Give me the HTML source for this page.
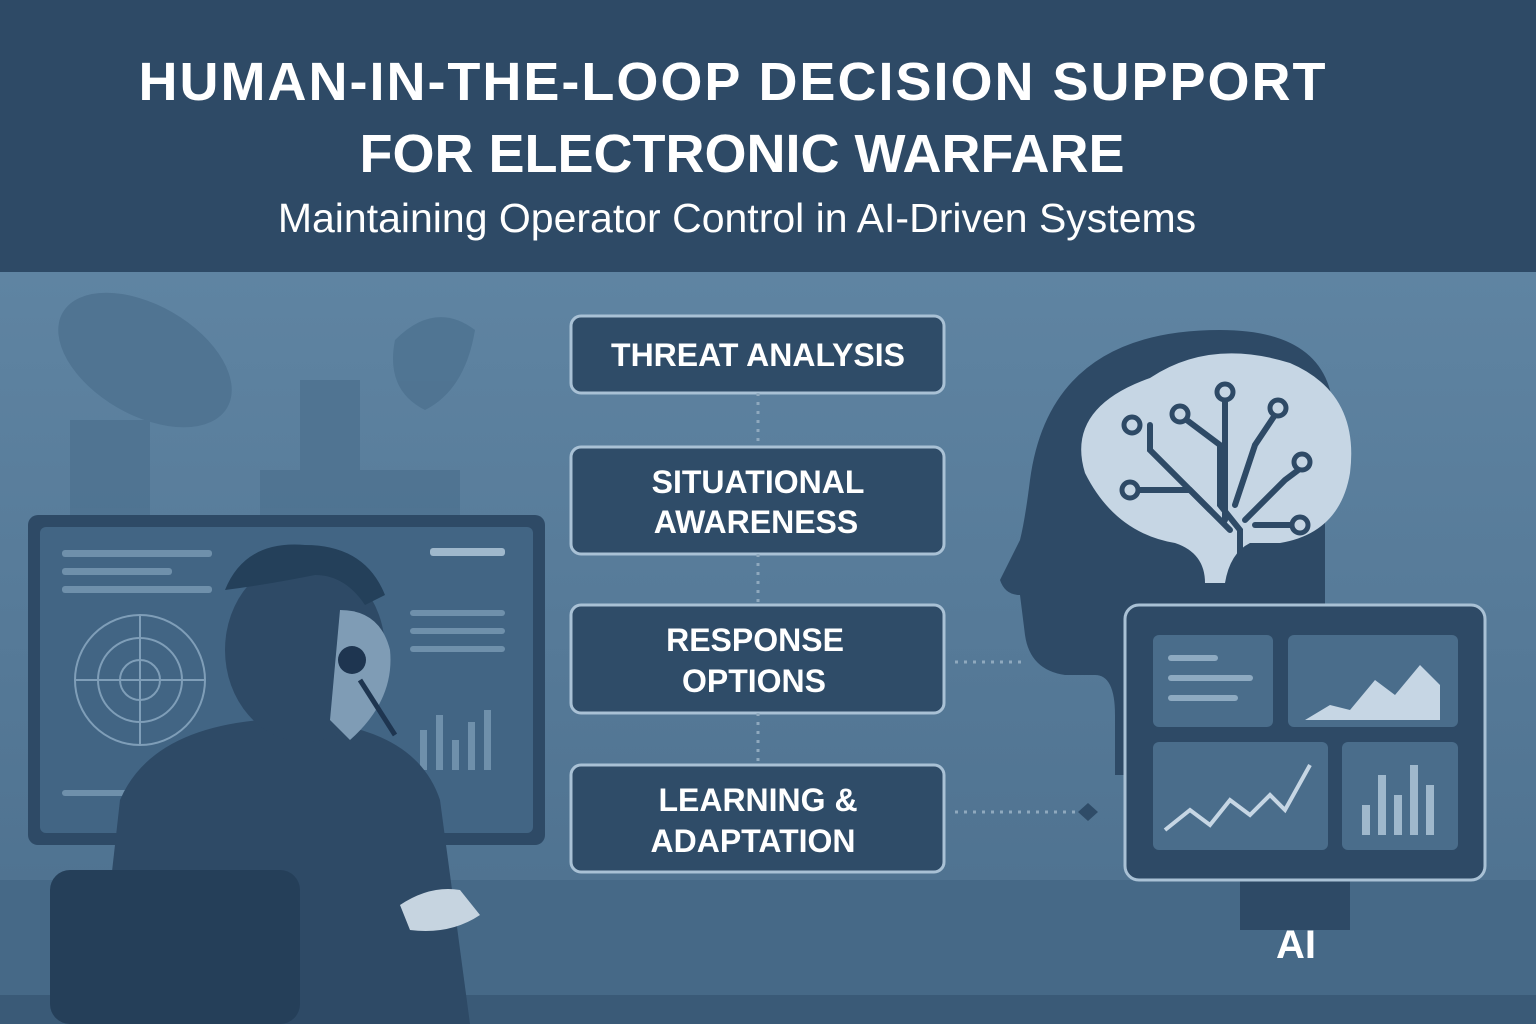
<!DOCTYPE html>
<html><head><meta charset="utf-8"><style>
html,body{margin:0;padding:0;width:1536px;height:1024px;overflow:hidden;background:#5a7d9a}
svg{display:block}
text{font-family:"Liberation Sans","DejaVu Sans",sans-serif}
</style></head><body>
<svg width="1536" height="1024" viewBox="0 0 1536 1024" xmlns="http://www.w3.org/2000/svg">
<defs>
<linearGradient id="bg" x1="0" y1="0" x2="0" y2="1">
<stop offset="0" stop-color="#5f84a2"/><stop offset="1" stop-color="#4c6f8d"/>
</linearGradient>
</defs>
<rect x="0" y="272" width="1536" height="752" fill="url(#bg)"/>
<rect x="0" y="0" width="1536" height="272" fill="#2e4a66"/>
<text x="733" y="100" text-anchor="middle" fill="#fff" font-size="54" font-weight="bold" letter-spacing="2">HUMAN-IN-THE-LOOP DECISION SUPPORT</text>
<text x="742" y="172" text-anchor="middle" fill="#fff" font-size="54" font-weight="bold">FOR ELECTRONIC WARFARE</text>
<text x="737" y="232" text-anchor="middle" fill="#fff" font-size="41">Maintaining Operator Control in AI-Driven Systems</text>

<g fill="#4f7391" opacity="0.9">
<ellipse cx="145" cy="360" rx="95" ry="55" transform="rotate(30 145 360)"/>
<rect x="70" y="420" width="80" height="100"/>
<rect x="260" y="470" width="200" height="50"/>
<rect x="300" y="380" width="60" height="100"/>
<path d="M395 340 q40 -40 80 -10 q-10 60 -50 80 q-40 -20 -30 -70z"/>
</g>
<rect x="0" y="880" width="1536" height="144" fill="#466987"/>
<rect x="0" y="995" width="1536" height="29" fill="#3a5a77"/>

<rect x="28" y="515" width="517" height="330" rx="10" fill="#2e4a66"/>
<rect x="40" y="527" width="493" height="306" rx="6" fill="#426584"/>
<g stroke="#7f9eb8" stroke-width="2" fill="none">
<circle cx="140" cy="680" r="65"/><circle cx="140" cy="680" r="42"/><circle cx="140" cy="680" r="20"/>
<line x1="75" y1="680" x2="205" y2="680"/><line x1="140" y1="615" x2="140" y2="745"/>
</g>
<g fill="#6f90ab">
<rect x="62" y="550" width="150" height="7" rx="3"/><rect x="62" y="568" width="110" height="7" rx="3"/>
<rect x="62" y="586" width="150" height="7" rx="3"/>
<rect x="430" y="548" width="75" height="8" rx="3" fill="#9fb8cc"/>
<rect x="410" y="610" width="95" height="6" rx="3"/><rect x="410" y="628" width="95" height="6" rx="3"/><rect x="410" y="646" width="95" height="6" rx="3"/>
<rect x="420" y="730" width="7" height="40"/><rect x="436" y="715" width="7" height="55"/><rect x="452" y="740" width="7" height="30"/><rect x="468" y="722" width="7" height="48"/><rect x="484" y="710" width="7" height="60"/>
<rect x="62" y="790" width="120" height="6" rx="3"/>
</g>
<g fill="#2e4a66">
<path d="M95 1024 L120 800 Q150 730 260 720 L340 725 Q420 740 440 800 L470 1024 Z"/>
<ellipse cx="305" cy="650" rx="80" ry="92"/>
<rect x="50" y="870" width="250" height="154" rx="20" fill="#253f59"/>
</g>
<path d="M225 590 q20 -50 80 -45 q60 0 80 50 l-20 10 q-20 -30 -50 -30 q-50 10 -90 15z" fill="#24405a"/>
<path d="M340 610 q40 0 50 40 q5 50 -40 90 l-20 -20z" fill="#7f9cb5"/>
<path d="M400 905 q30 -20 60 -15 l20 25 q-30 20 -70 15z" fill="#c6d4e0"/>
<circle cx="352" cy="660" r="14" fill="#1e3550"/>
<line x1="360" y1="680" x2="395" y2="735" stroke="#1e3550" stroke-width="5"/>

<g stroke="#a9c1d5" stroke-width="3" fill="#2f4c68">
<rect x="571" y="316" width="373" height="77" rx="10"/>
<rect x="571" y="447" width="373" height="107" rx="10"/>
<rect x="571" y="605" width="373" height="108" rx="10"/>
<rect x="571" y="765" width="373" height="107" rx="10"/>
</g>
<g stroke="#8fa9be" stroke-width="3" stroke-dasharray="3 6">
<line x1="758" y1="393" x2="758" y2="447"/><line x1="758" y1="554" x2="758" y2="605"/><line x1="758" y1="713" x2="758" y2="765"/>
<line x1="955" y1="662" x2="1025" y2="662"/><line x1="955" y1="812" x2="1075" y2="812"/>
</g>
<path d="M1078 812 l10 -9 10 9 -10 9z" fill="#2f4c68"/>
<g fill="#fff" font-size="32" font-weight="bold" text-anchor="middle">
<text x="758" y="366">THREAT ANALYSIS</text>
<text x="758" y="493">SITUATIONAL</text><text x="756" y="533">AWARENESS</text>
<text x="755" y="651">RESPONSE</text><text x="754" y="692">OPTIONS</text>
<text x="758" y="811">LEARNING &amp;</text><text x="753" y="852">ADAPTATION</text>
</g>

<path d="M1220 330 q-170 0 -190 150 q-5 40 -10 60 l-20 40 q5 15 20 15 l5 40 q5 35 40 40 l30 0 q20 0 20 40 l0 60 l210 0 l0 -300 q40 -145 -105 -145z" fill="#2e4a66"/>
<path d="M1150 378 q60 -40 140 -15 q70 30 60 110 q-10 60 -70 70 l-30 0 q-20 10 -25 40 l-20 0 q0 -30 -30 -40 q-60 -10 -90 -70 q-20 -65 65 -95z" fill="#c6d6e4"/>
<g stroke="#2e4a66" stroke-width="6" fill="none" stroke-linecap="round">
<path d="M1240 590 l0 -60 l-20 -25 l0 -60 l-40 -30"/>
<path d="M1230 530 l-40 -40 l-60 0"/>
<path d="M1210 510 l-60 -60 l0 -25"/>
<path d="M1225 520 l0 -80 l0 -45"/>
<path d="M1235 505 l20 -60 l20 -30"/>
<path d="M1245 520 l40 -40 l20 -15"/>
<path d="M1255 525 l40 0"/>
</g>
<g fill="#c6d6e4" stroke="#2e4a66" stroke-width="5">
<circle cx="1180" cy="414" r="8"/><circle cx="1130" cy="490" r="8"/><circle cx="1132" cy="425" r="8"/><circle cx="1225" cy="392" r="8"/><circle cx="1278" cy="408" r="8"/><circle cx="1302" cy="462" r="8"/><circle cx="1300" cy="525" r="8"/>
</g>

<rect x="1240" y="880" width="110" height="50" fill="#2e4a66"/>
<rect x="1125" y="605" width="360" height="275" rx="14" fill="#2e4a66" stroke="#a9c1d5" stroke-width="3"/>
<g fill="#4a6d8b">
<rect x="1153" y="635" width="120" height="92" rx="6"/>
<rect x="1288" y="635" width="170" height="92" rx="6"/>
<rect x="1153" y="742" width="175" height="108" rx="6"/>
<rect x="1342" y="742" width="116" height="108" rx="6"/>
</g>
<g fill="#8eaac1"><rect x="1168" y="655" width="50" height="6" rx="3"/><rect x="1168" y="675" width="85" height="6" rx="3"/><rect x="1168" y="695" width="70" height="6" rx="3"/></g>
<path d="M1305 720 l25 -15 20 5 25 -30 20 15 25 -30 20 20 0 35z" fill="#c6d6e4"/>
<polyline points="1165,830 1190,810 1210,825 1230,800 1250,815 1270,795 1285,810 1310,765" stroke="#c6d6e4" stroke-width="4" fill="none"/>
<g fill="#9fb8cc"><rect x="1362" y="805" width="8" height="30"/><rect x="1378" y="775" width="8" height="60"/><rect x="1394" y="795" width="8" height="40"/><rect x="1410" y="765" width="8" height="70"/><rect x="1426" y="785" width="8" height="50"/></g>
<text x="1296" y="958" text-anchor="middle" fill="#fff" font-size="40" font-weight="bold">AI</text>
</svg>
</body></html>
